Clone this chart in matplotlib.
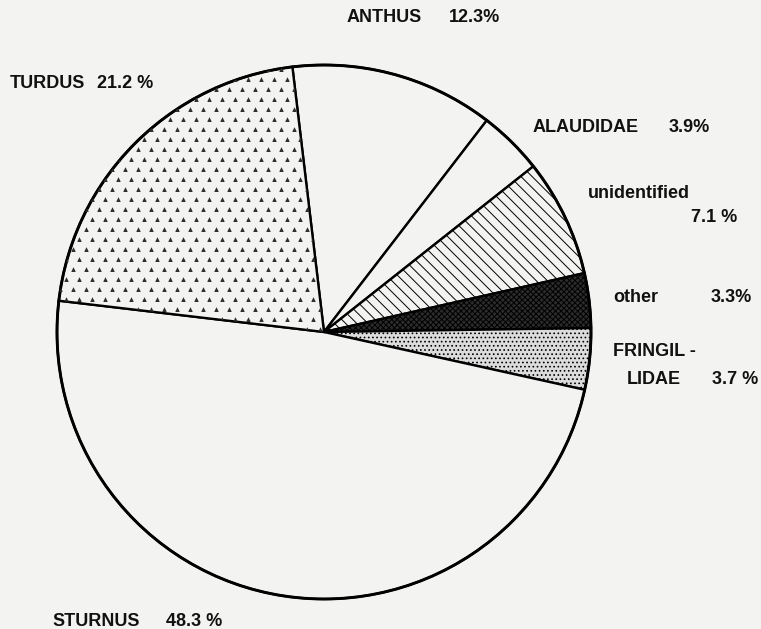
import numpy as np
import matplotlib
matplotlib.use("Agg")
import matplotlib.pyplot as plt

# data, clockwise from the top
names = ["ANTHUS", "ALAUDIDAE", "unidentified", "other", "FRINGILLIDAE", "STURNUS", "TURDUS"]
shares = [12.3, 3.9, 7.1, 3.3, 3.7, 48.3, 21.2]
pct_text = ["12.3%", "3.9%", "7.1 %", "3.3%", "3.7 %", "48.3 %", "21.2 %"]

paper = "#f3f3f1"
plt.rcParams["hatch.linewidth"] = 0.7
plt.rcParams["font.family"] = ["Liberation Sans", "DejaVu Sans"]

fig = plt.figure(figsize=(7.61, 6.29), dpi=100, facecolor=paper)
ax = fig.add_axes([0, 0, 1, 1])
ax.set_facecolor(paper)

cx, cy, r = 324, 629 - 332, 267
face = [paper, paper, paper, "#2c2c2c", "#dcdcdc", paper, paper]
hatch = [None, None, "\\\\\\", "xxxxxx", "....", None, None]

wedges, _ = ax.pie(shares, center=(cx, cy), radius=r, startangle=96.8,
                   counterclock=False, colors=face,
                   wedgeprops=dict(edgecolor="black", linewidth=1.7))
for w, h in zip(wedges, hatch):
    if h:
        w.set_hatch(h)

# outline of the circle a bit heavier
circ = plt.Circle((cx, cy), r, fill=False, edgecolor="black", linewidth=2.1)
ax.add_patch(circ)

# scattered small marks for the TURDUS texture
gx, gy = np.meshgrid(np.arange(40, 340, 13.0), np.arange(260, 620, 10.0))
gx[::2] += 6.5
sc = ax.scatter(gx.ravel(), gy.ravel(), marker="^", s=11, color="#303030",
                linewidths=0, zorder=3)
sc.set_clip_path(wedges[6])

ax.set_xlim(0, 761)
ax.set_ylim(0, 629)
ax.set_aspect("equal")
ax.axis("off")

kw = dict(fontsize=13, fontweight="bold", va="center", color="#111111")
H = 629
# name labels and percent labels
ax.text(347, H - 18, names[0], ha="left", **kw)
ax.text(500, H - 18, pct_text[0], ha="right", **kw)
ax.text(533, H - 127, names[1], ha="left", **kw)
ax.text(710, H - 127, pct_text[1], ha="right", **kw)
ax.text(588, H - 193, names[2], ha="left", **kw)
ax.text(737, H - 218, pct_text[2], ha="right", **kw)
ax.text(613, H - 298, names[3], ha="left", **kw)
ax.text(752, H - 298, pct_text[3], ha="right", **kw)
ax.text(613, H - 352, "FRINGIL -", ha="left", **kw)
ax.text(627, H - 380, "LIDAE", ha="left", **kw)
ax.text(758, H - 380, pct_text[4], ha="right", **kw)
ax.text(52, H - 622, names[5], ha="left", **kw)
ax.text(222, H - 622, pct_text[5], ha="right", **kw)
ax.text(10, H - 83, names[6], ha="left", **kw)
ax.text(153, H - 83, pct_text[6], ha="right", **kw)

fig.savefig("out.png", dpi=100, facecolor=paper)
